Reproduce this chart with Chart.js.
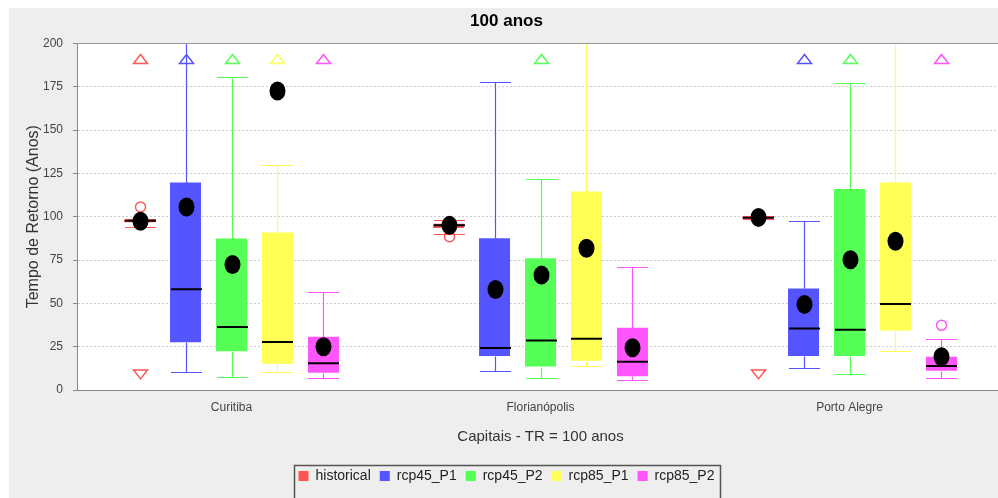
<!DOCTYPE html>
<html lang="pt">
<head>
<meta charset="UTF-8">
<title>100 anos</title>
<script src="https://cdn.jsdelivr.net/npm/chart.js"></script>
<style>
  html, body { margin: 0; padding: 0; overflow: hidden; background: #ffffff; }
  .chart-container { width: 1012px; height: 498px; }
</style>
</head>
<body>
<div class="chart-container"><canvas id="boxChart" width="1012" height="498"></canvas></div>
<script>
const categories = ['Curitiba', 'Florianópolis', 'Porto Alegre'];
const seriesNames = ['historical', 'rcp45_P1', 'rcp45_P2', 'rcp85_P1', 'rcp85_P2'];
const seriesColors = ['rgb(255,85,85)', 'rgb(85,85,255)', 'rgb(85,255,85)', 'rgb(255,255,85)', 'rgb(255,85,255)'];

// one row per series, one column per category
const q1 = [
  [96.8, 93.5, 99.0],
  [27.5, 19.6, 19.6],
  [22.3, 13.5, 19.6],
  [15.2, 16.9, 34.4],
  [10.0, 8.0, 11.1]
];
const q3 = [
  [98.4, 96.0, 99.8],
  [119.7, 87.6, 58.6],
  [87.4, 76.0, 116.0],
  [90.9, 114.5, 119.7],
  [30.7, 35.9, 19.2]
];
const median = [
  [97.7, 95.0, 99.4],
  [58.2, 24.2, 35.5],
  [36.3, 28.6, 34.8],
  [27.7, 29.6, 49.6],
  [15.4, 16.3, 13.8]
];
const whiskerLow = [
  [94.1, 90.0, 98.7],
  [10.4, 11.1, 12.9],
  [7.7, 6.7, 9.2],
  [10.2, 13.8, 22.5],
  [6.9, 5.8, 6.7]
];
const whiskerHigh = [
  [98.8, 98.0, 100.2],
  [215, 178.0, 97.6],
  [180.6, 122.0, 177.1],
  [130.0, 215, 215],
  [56.5, 70.7, 29.4]
];
const means = [
  [97.4, 95.0, 99.6],
  [105.6, 58.0, 49.4],
  [72.4, 66.3, 75.2],
  [172.5, 81.8, 85.8],
  [25.0, 24.4, 19.2]
];
const outliers = [
  [[105.6], [88.5], []],
  [[], [], []],
  [[], [], []],
  [[], [], []],
  [[], [], [37.3]]
];
// far-out markers (triangles)
const farHigh = [
  [191, null, null],
  [191, null, 191],
  [191, 191, 191],
  [191, null, null],
  [191, null, 191]
];
const farLow = [
  [9, null, 9],
  [null, null, null],
  [null, null, null],
  [null, null, null],
  [null, null, null]
];
const yTicks = { min: 0, max: 200, step: 25 };

const boxPlot = {
  id: 'boxPlot',
  beforeDraw(chart) {
    const { ctx, width, height, chartArea: a } = chart;
    ctx.save();
    ctx.fillStyle = '#ffffff';
    ctx.fillRect(0, 0, width, height);
    ctx.fillStyle = '#eeeeee';
    ctx.fillRect(9, 8, width - 9, height - 8);
    ctx.fillStyle = '#ffffff';
    ctx.fillRect(a.left, a.top, a.width, a.height);
    ctx.restore();
  },
  afterDatasetsDraw(chart) {
    const { ctx, chartArea: a, scales: { y } } = chart;
    const py = v => Math.round(y.getPixelForValue(v)) + 0.5;
    ctx.save();
    ctx.beginPath();
    ctx.rect(a.left, a.top, a.width, a.height);
    ctx.clip();
    seriesNames.forEach((name, i) => {
      chart.getDatasetMeta(i).data.forEach((bar, j) => {
        const x = Math.round(bar.x) + 0.5;
        const half = bar.width / 2;
        const yLo = py(whiskerLow[i][j]), yHi = py(whiskerHigh[i][j]);
        const yQ1 = py(q1[i][j]), yQ3 = py(q3[i][j]);

        // whiskers
        ctx.strokeStyle = seriesColors[i];
        ctx.lineWidth = 1.2;
        ctx.beginPath();
        ctx.moveTo(x, yQ3); ctx.lineTo(x, yHi);
        ctx.moveTo(x - half, yHi); ctx.lineTo(x + half, yHi);
        ctx.moveTo(x, yQ1); ctx.lineTo(x, yLo);
        ctx.moveTo(x - half, yLo); ctx.lineTo(x + half, yLo);
        ctx.stroke();

        // median
        const yMed = y.getPixelForValue(median[i][j]);
        ctx.strokeStyle = '#000000';
        ctx.lineWidth = 2;
        ctx.beginPath();
        ctx.moveTo(x - half, yMed); ctx.lineTo(x + half, yMed);
        ctx.stroke();

        // outliers
        ctx.strokeStyle = seriesColors[i];
        ctx.lineWidth = 1.5;
        outliers[i][j].forEach(v => {
          ctx.beginPath();
          ctx.arc(x, y.getPixelForValue(v), 5, 0, Math.PI * 2);
          ctx.stroke();
        });

        // far-out triangles
        if (farHigh[i][j] !== null) {
          const ty = y.getPixelForValue(farHigh[i][j]);
          ctx.beginPath();
          ctx.moveTo(x, ty - 4.5); ctx.lineTo(x + 7, ty + 4.5); ctx.lineTo(x - 7, ty + 4.5);
          ctx.closePath(); ctx.stroke();
        }
        if (farLow[i][j] !== null) {
          const ty = y.getPixelForValue(farLow[i][j]);
          ctx.beginPath();
          ctx.moveTo(x, ty + 4.5); ctx.lineTo(x + 7, ty - 4.5); ctx.lineTo(x - 7, ty - 4.5);
          ctx.closePath(); ctx.stroke();
        }

        // mean
        ctx.fillStyle = '#000000';
        ctx.beginPath();
        ctx.ellipse(x, y.getPixelForValue(means[i][j]), 8, 9.5, 0, 0, Math.PI * 2);
        ctx.fill();
      });
    });
    ctx.restore();

    // plot outline (top edge)
    ctx.save();
    ctx.strokeStyle = '#999999';
    ctx.lineWidth = 1;
    ctx.beginPath();
    ctx.moveTo(a.left, Math.round(a.top) + 0.5);
    ctx.lineTo(a.right, Math.round(a.top) + 0.5);
    ctx.stroke();
    ctx.restore();
  },
  afterDraw(chart) {
    // frame round the legend
    const boxes = chart.legend.legendHitBoxes;
    if (!boxes || !boxes.length) return;
    const { ctx } = chart;
    const left = Math.min(...boxes.map(b => b.left)) - 5;
    const right = Math.max(...boxes.map(b => b.left + b.width)) + 5;
    const top = boxes[0].top - 4;
    ctx.save();
    ctx.strokeStyle = '#555555';
    ctx.lineWidth = 1.5;
    ctx.strokeRect(Math.round(left) + 0.5, Math.round(top) + 0.5, Math.round(right - left), chart.height - top + 10);
    ctx.restore();
  }
};

Chart.defaults.font.family = '"Liberation Sans", Arial, sans-serif';

const ctx = document.getElementById('boxChart').getContext('2d');
const chart = new Chart(ctx, {
  type: 'bar',
  data: {
    labels: categories,
    datasets: seriesNames.map((name, i) => ({
      label: name,
      data: categories.map((c, j) => [q1[i][j], q3[i][j]]),
      backgroundColor: seriesColors[i],
      borderWidth: 0,
      borderSkipped: false,
      categoryPercentage: 0.744,
      barPercentage: 0.674
    }))
  },
  options: {
    responsive: false,
    animation: false,
    events: [],
    layout: { padding: { left: 9, right: 8, top: 8, bottom: 5 } },
    plugins: {
      title: {
        display: true,
        text: '100 anos',
        color: '#000000',
        font: { size: 17, weight: 'bold' },
        padding: { top: 3, bottom: 12 }
      },
      legend: {
        position: 'bottom',
        labels: {
          boxWidth: 10,
          boxHeight: 10,
          padding: 9,
          color: '#222222',
          font: { size: 14 }
        }
      },
      tooltip: { enabled: false }
    },
    scales: {
      x: {
        grid: { display: false },
        border: { color: '#888888' },
        ticks: { color: '#444444', font: { size: 12 }, padding: 2 },
        title: {
          display: true,
          text: 'Capitais - TR = 100 anos',
          color: '#333333',
          font: { size: 15 },
          padding: { top: 0, bottom: 14 }
        },
        afterFit(scale) { scale.height = 70; }
      },
      y: {
        min: yTicks.min,
        max: yTicks.max,
        ticks: { stepSize: yTicks.step, color: '#444444', font: { size: 12 }, padding: 10 },
        grid: { color: '#cccccc', tickColor: '#888888', tickLength: 4 },
        border: { color: '#888888', dash: [2, 2] },
        title: {
          display: true,
          text: 'Tempo de Retorno (Anos)',
          color: '#333333',
          font: { size: 16 },
          padding: { top: 15, bottom: 0 }
        },
        afterFit(scale) { scale.width = 68; }
      }
    }
  },
  plugins: [boxPlot]
});
</script>
</body>
</html>
